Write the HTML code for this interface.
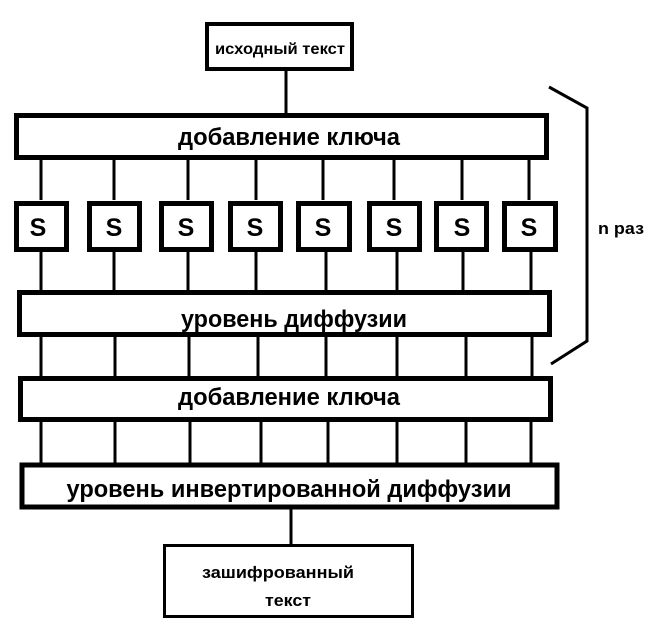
<!DOCTYPE html>
<html><head><meta charset="utf-8"><style>
body{margin:0;background:#fff}
svg{display:block}
text{font-family:"Liberation Sans","DejaVu Sans",sans-serif;font-weight:bold;fill:#000}
</style></head><body>
<svg width="659" height="640" viewBox="0 0 659 640" xmlns="http://www.w3.org/2000/svg">
<g fill="#fff" stroke="#000">
<rect x="207" y="24" width="145" height="45" stroke-width="4"/>
<rect x="16.5" y="115.5" width="530" height="42" stroke-width="5"/>
<rect x="19.5" y="292.5" width="530" height="42" stroke-width="5"/>
<rect x="20.5" y="378.5" width="530" height="41" stroke-width="5"/>
<rect x="22" y="465" width="535" height="42" stroke-width="5"/>
<rect x="164.5" y="545.5" width="248" height="71" stroke-width="3"/>
</g>
<g stroke="#000" stroke-width="3" fill="none">
<line x1="286" y1="70" x2="286" y2="113"/>
<line x1="291" y1="508" x2="291" y2="545"/>
<path d="M41 158V200M114 158V200M188 158V200M256 158V200M323 158V200M394 158V200M462 158V200M529 158V200"/>
<path d="M41 251V292M114 251V292M188 251V292M256 251V292M326 251V292M397 251V292M463 251V292M531 251V292"/>
<path d="M41 336V377M115 336V377M189 336V377M258 336V377M326 336V377M397 336V377M466 336V377M532 336V377"/>
<path d="M41 420V463M115 420V463M190 420V463M261 420V463M328 420V463M397 420V463M466 420V463M531 420V463"/>
<path d="M549 87L587 108V341L551 364"/>
</g>
<g fill="#fff" stroke="#000" stroke-width="5">
<rect x="16.5" y="203.5" width="50" height="46"/>
<rect x="89.5" y="203.5" width="50" height="46"/>
<rect x="161.5" y="203.5" width="50" height="46"/>
<rect x="230.5" y="203.5" width="50" height="46"/>
<rect x="298.5" y="203.5" width="51" height="46"/>
<rect x="369.5" y="203.5" width="50" height="46"/>
<rect x="436.5" y="203.5" width="50" height="46"/>
<rect x="504.5" y="203.5" width="51" height="46"/>
</g>
<g font-size="25" text-anchor="middle">
<text x="38" y="236">S</text><text x="114" y="236">S</text><text x="186" y="236">S</text><text x="255" y="236">S</text>
<text x="323" y="236">S</text><text x="394" y="236">S</text><text x="462" y="236">S</text><text x="529" y="236">S</text>
</g>
<text x="280" y="54" font-size="16" text-anchor="middle" textLength="130" lengthAdjust="spacingAndGlyphs">исходный текст</text>
<text x="289" y="145" font-size="24" text-anchor="middle" textLength="222" lengthAdjust="spacingAndGlyphs">добавление ключа</text>
<text x="294" y="327" font-size="24" text-anchor="middle" textLength="226" lengthAdjust="spacingAndGlyphs">уровень диффузии</text>
<text x="289" y="405" font-size="24" text-anchor="middle" textLength="222" lengthAdjust="spacingAndGlyphs">добавление ключа</text>
<text x="289" y="497" font-size="24" text-anchor="middle" textLength="445" lengthAdjust="spacingAndGlyphs">уровень инвертированной диффузии</text>
<text x="278" y="578" font-size="17" text-anchor="middle" textLength="152" lengthAdjust="spacingAndGlyphs">зашифрованный</text>
<text x="288" y="606" font-size="17" text-anchor="middle" textLength="46" lengthAdjust="spacingAndGlyphs">текст</text>
<text x="598" y="234" font-size="17" textLength="46" lengthAdjust="spacingAndGlyphs">n раз</text>
</svg>
</body></html>
